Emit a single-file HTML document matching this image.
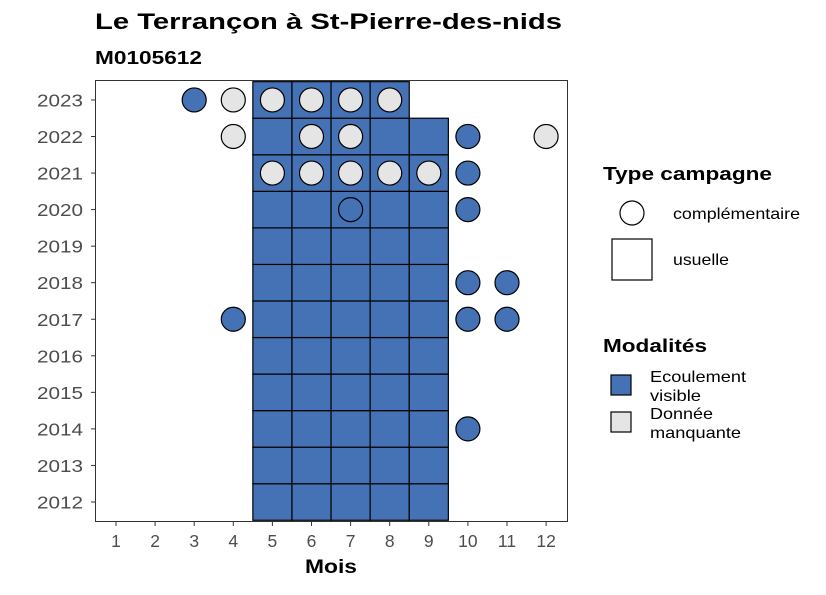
<!DOCTYPE html>
<html><head><meta charset="utf-8"><style>
body{margin:0;background:#fff}
svg{font-family:"Liberation Sans",sans-serif}
</style></head><body>
<svg width="826" height="590" xmlns="http://www.w3.org/2000/svg">
<text x="95" y="29" font-size="22" font-weight="bold" textLength="467" lengthAdjust="spacingAndGlyphs">Le Terrançon à St-Pierre-des-nids</text>
<text x="95" y="64" font-size="18" font-weight="bold" textLength="107" lengthAdjust="spacingAndGlyphs">M0105612</text>
<rect x="95.5" y="80.5" width="472" height="441" fill="#fff" stroke="#333"/>
<g id="tiles"></g>
<g id="pts"></g>
<g id="xt"></g>
<g id="yt"></g>
<text x="305" y="573" font-size="19" font-weight="bold" textLength="52" lengthAdjust="spacingAndGlyphs">Mois</text>
<g>
<text x="603" y="180" font-size="18" font-weight="bold" textLength="169" lengthAdjust="spacingAndGlyphs">Type campagne</text>
<circle cx="632" cy="213" r="12" fill="#fff" stroke="#000" stroke-width="1.2"/>
<text x="673" y="219" font-size="16" textLength="127" lengthAdjust="spacingAndGlyphs">complémentaire</text>
<rect x="612" y="239" width="40" height="41" fill="#fff" stroke="#000" stroke-width="1.2"/>
<text x="673" y="265" font-size="16" textLength="56" lengthAdjust="spacingAndGlyphs">usuelle</text>
</g>
<g>
<text x="603" y="352" font-size="18" font-weight="bold" textLength="104" lengthAdjust="spacingAndGlyphs">Modalités</text>
<rect x="611" y="375" width="20" height="20" fill="#4472b4" stroke="#000" stroke-width="1.2"/>
<text x="650" y="382" font-size="16" textLength="96" lengthAdjust="spacingAndGlyphs">Ecoulement</text>
<text x="650" y="401" font-size="16" textLength="51" lengthAdjust="spacingAndGlyphs">visible</text>
<rect x="611" y="412" width="20" height="20" fill="#e5e5e5" stroke="#000" stroke-width="1.2"/>
<text x="650" y="419" font-size="16" textLength="63" lengthAdjust="spacingAndGlyphs">Donnée</text>
<text x="650" y="438" font-size="16" textLength="91" lengthAdjust="spacingAndGlyphs">manquante</text>
</g>
</svg>
<script>
const months=[1,2,3,4,5,6,7,8,9,10,11,12];
const years=[2012,2013,2014,2015,2016,2017,2018,2019,2020,2021,2022,2023];
const tileYears=[2012,2013,2014,2015,2016,2017,2018,2019,2020,2021,2022,2023];
const tileLastMonth=[9,9,9,9,9,9,9,9,9,9,9,8];
const ptYear=[2023,2023,2023,2023,2023,2023,2022,2022,2022,2022,2022,2021,2021,2021,2021,2021,2021,2020,2020,2018,2018,2017,2017,2017,2014];
const ptMonth=[3,4,5,6,7,8,4,6,7,10,12,5,6,7,8,9,10,7,10,10,11,4,10,11,10];
const ptMod=["E","D","D","D","D","D","D","D","D","E","D","D","D","D","D","D","E","E","E","E","E","E","E","E","E"];
const NS="http://www.w3.org/2000/svg";
const xs=m=>116+(m-1)*39.1;
const ys=y=>502-(y-2012)*36.55;
const W=39.1,H=36.55;
const col={E:"#4472b4",D:"#e5e5e5"};
function mk(t,a,p){const e=document.createElementNS(NS,t);for(const k in a)e.setAttribute(k,a[k]);p.appendChild(e);return e;}
const tg=document.getElementById('tiles');
tileYears.forEach((y,i)=>{for(let m=5;m<=tileLastMonth[i];m++){
 const r=mk('rect',{x:xs(m)-W/2,y:ys(y)-H/2,width:W,height:H,fill:col.E,stroke:"#000","stroke-width":1.2},tg);
 
 
}});
const pg=document.getElementById('pts');
ptYear.forEach((y,i)=>{
 const c=mk('circle',{cx:xs(ptMonth[i]),cy:ys(y),r:12,fill:col[ptMod[i]],stroke:"#000","stroke-width":1.2},pg);
 
 
});
const xg=document.getElementById('xt');
months.forEach(m=>{
 mk('line',{x1:xs(m),x2:xs(m),y1:521.5,y2:526,stroke:"#333"},xg);
 const t=mk('text',{x:xs(m),y:547,"font-size":17.5,fill:"#4d4d4d","text-anchor":"middle"},xg);t.textContent=m;
 
 
});
const yg=document.getElementById('yt');
years.forEach(y=>{
 mk('line',{x1:91,x2:95.5,y1:ys(y),y2:ys(y),stroke:"#333"},yg);
 const t=mk('text',{x:37,y:ys(y)+6.5,"font-size":17.5,fill:"#4d4d4d",textLength:46,lengthAdjust:"spacingAndGlyphs"},yg);t.textContent=y;
 
 
});
</script>
</body></html>
